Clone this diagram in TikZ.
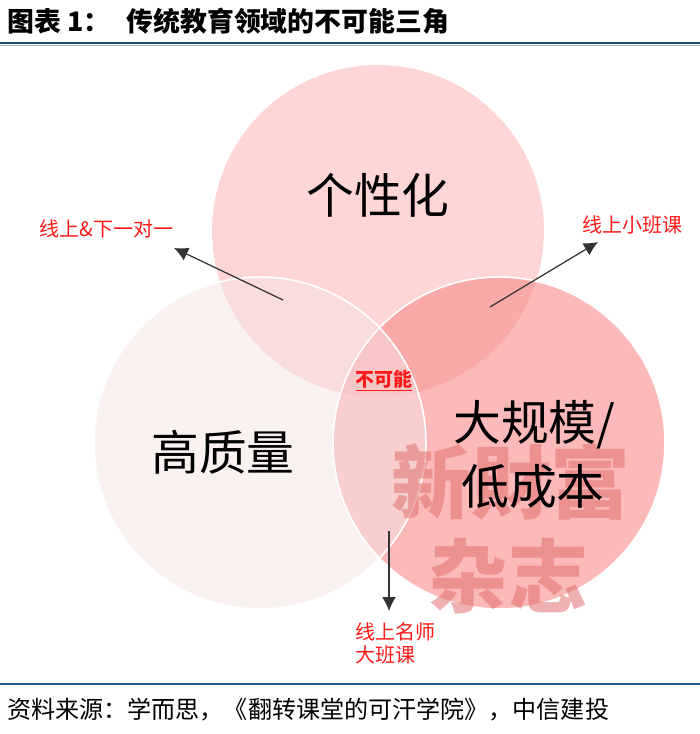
\documentclass[tikz,border=0pt]{standalone}
\usepackage{fontspec}
\setmainfont{Noto Sans CJK SC}
\usetikzlibrary{arrows.meta}

\definecolor{kopfblau}{HTML}{1F4E79}
\definecolor{hellblau}{HTML}{9DB7D5}
\definecolor{fussblau}{HTML}{1F5A8A}
\definecolor{oben}{HTML}{FED6D6}
\definecolor{links}{HTML}{F5E3E3}
\definecolor{rechts}{HTML}{F99191}
\definecolor{marke}{HTML}{E07070}
\definecolor{rot}{HTML}{FF1A1A}

% Pixel -> cm
\def\punkt#1#2{ ({0.02*(#1)},{-0.02*(#2)}) }
\def\gross{\fontsize{27.2}{30}\selectfont}
\def\klein{\fontsize{11.4}{13.5}\selectfont}
\def\kreis#1#2{ \punkt{#1}{#2} circle[radius=3.32] }

\begin{document}
\begin{tikzpicture}[>={Latex[length=2.8mm,width=2.8mm]},
	zeiger/.style={->,line width=0.7pt,color=black!80},
	marke/.style={text=rot,font=\klein,inner sep=0pt}]
\useasboundingbox \punkt{0}{0} rectangle \punkt{700}{734};
% Kopf
\node[anchor=west,inner sep=0pt] (titel) at \punkt{7}{21}
	{\fontsize{15.3}{18}\selectfont\bfseries 图表 1：\hspace{0.32cm}传统教育领域的不可能三角};
\draw[line width=1.6pt,color=kopfblau] \punkt{0}{43} -- \punkt{700}{43};
\draw[line width=0.6pt,color=hellblau] \punkt{0}{45.5} -- \punkt{700}{45.5};
% Kreise
\fill[color=oben] \kreis{378}{231};
\fill[color=rechts,opacity=0.64] \kreis{499}{443};
\fill[color=links,opacity=0.5] \kreis{260}{443};
\draw[white,line width=0.9pt] \kreis{499}{443};
\draw[white,line width=0.9pt] \kreis{260}{443};
% Wasserzeichen
\node[text=marke,opacity=0.55,font=\fontsize{45.4}{50}\selectfont\bfseries] (wz1) at \punkt{511}{482} {新財富};
\node[text=marke,opacity=0.55,font=\fontsize{45.4}{50}\selectfont\bfseries] (wz2) at \punkt{508}{576} {杂志};
% Beschriftung
\node[font=\gross] (gexing) at \punkt{378}{195} {个性化};
\node[font=\gross] (zhiliang) at \punkt{223}{452} {高质量};
\node[font=\gross,anchor=west,inner sep=0pt] (guimo) at \punkt{453}{425} {大规模/};
\node[font=\gross,anchor=west,inner sep=0pt] (chengben) at \punkt{461}{487} {低成本};
\node[marke,font=\fontsize{10.8}{13}\selectfont\bfseries] (buke) at \punkt{384}{381} {\underline{不可能}};
\node[marke,anchor=west] (yiduiyi) at \punkt{39}{229} {线上\&下一对一};
\node[marke,anchor=west] (xiaoban) at \punkt{582}{225} {线上小班课};
\node[marke,anchor=west] (mingshi) at \punkt{355}{632} {线上名师};
\node[marke,anchor=west] (daban) at \punkt{355}{655} {大班课};
% Pfeile
\path \punkt{283}{300} coordinate (a1);
\path \punkt{174}{248} coordinate (b1);
\path \punkt{490}{307} coordinate (a2);
\path \punkt{598}{242} coordinate (b2);
\path \punkt{389}{531} coordinate (a3);
\path \punkt{389}{611} coordinate (b3);
\draw[zeiger] (a1) -- (b1);
\draw[zeiger] (a2) -- (b2);
\draw[zeiger] (a3) -- (b3);
% Fuss
\draw[line width=1.6pt,color=fussblau] \punkt{0}{684} -- \punkt{700}{684};
\node[anchor=west,inner sep=0pt,font=\fontsize{13.7}{16}\selectfont] (quelle) at \punkt{7}{710}
	{资料来源：学而思，《翻转课堂的可汗学院》，中信建投};
\end{tikzpicture}
\end{document}
